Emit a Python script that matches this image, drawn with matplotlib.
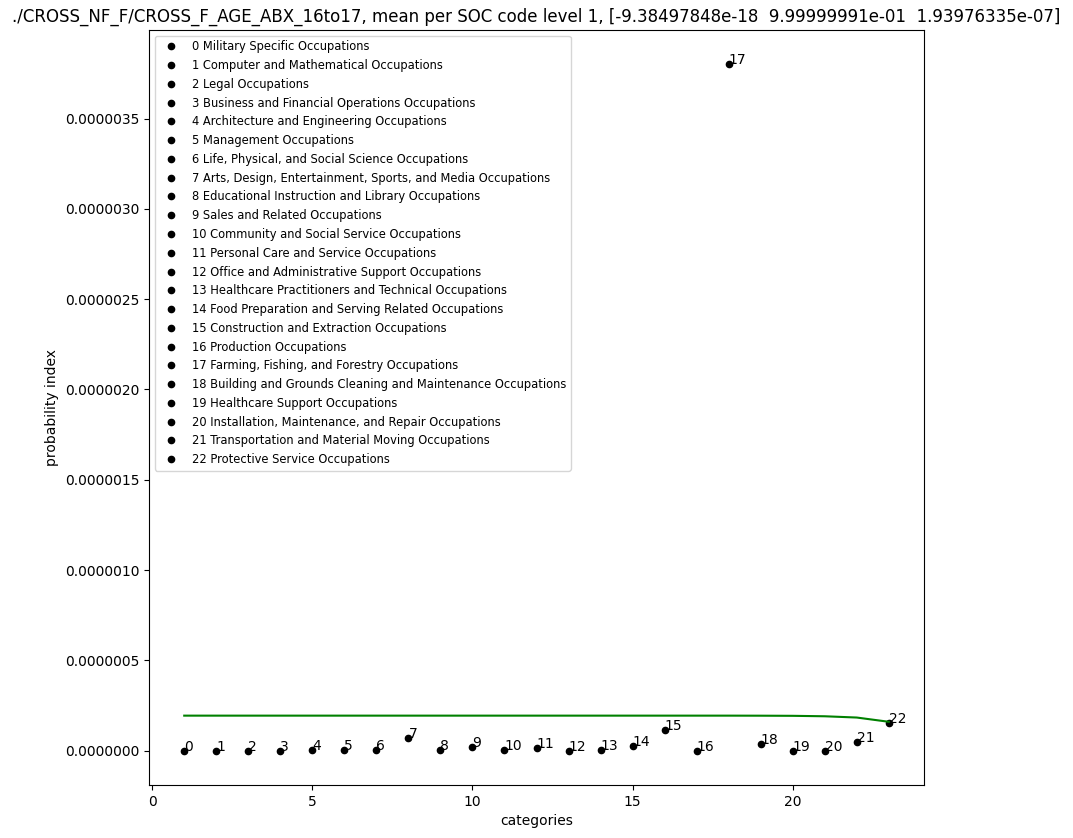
import matplotlib
matplotlib.use("Agg")
import matplotlib.pyplot as plt
from matplotlib.ticker import FormatStrFormatter

names = [
    "Military Specific Occupations",
    "Computer and Mathematical Occupations",
    "Legal Occupations",
    "Business and Financial Operations Occupations",
    "Architecture and Engineering Occupations",
    "Management Occupations",
    "Life, Physical, and Social Science Occupations",
    "Arts, Design, Entertainment, Sports, and Media Occupations",
    "Educational Instruction and Library Occupations",
    "Sales and Related Occupations",
    "Community and Social Service Occupations",
    "Personal Care and Service Occupations",
    "Office and Administrative Support Occupations",
    "Healthcare Practitioners and Technical Occupations",
    "Food Preparation and Serving Related Occupations",
    "Construction and Extraction Occupations",
    "Production Occupations",
    "Farming, Fishing, and Forestry Occupations",
    "Building and Grounds Cleaning and Maintenance Occupations",
    "Healthcare Support Occupations",
    "Installation, Maintenance, and Repair Occupations",
    "Transportation and Material Moving Occupations",
    "Protective Service Occupations",
]
categories = list(range(1, 24))
values = [0.0, 0.001e-6, 0.001e-6, 0.001e-6, 0.002e-6, 0.005e-6, 0.002e-6, 0.072e-6,
          0.002e-6, 0.022e-6, 0.002e-6, 0.017e-6, 0.001e-6, 0.002e-6, 0.028e-6,
          0.116e-6, 0.001e-6, 3.80e-6, 0.039e-6, 0.001e-6, 0.001e-6, 0.050e-6, 0.155e-6]
fit_x = list(range(1, 24))
fit_y = [0.1940e-6] * 18 + [0.1937e-6, 0.1930e-6, 0.1905e-6, 0.1835e-6, 0.1600e-6]

fig = plt.figure(figsize=(10.73, 8.38), dpi=100)
ax = fig.add_axes([149/1073, 1 - 785/838, (924-149)/1073, (785-30)/838])
for i, (x, y) in enumerate(zip(categories, values)):
    ax.plot(x, y, 'o', color='black', markersize=4.5, label=f"{i} {names[i]}")
    ax.text(x, y, str(i), fontsize=10)
ax.plot(fit_x, fit_y, color='green')
ax.yaxis.set_major_formatter(FormatStrFormatter('%.7f'))
ax.set_xlabel("categories")
ax.set_ylabel("probability index")
ax.set_title("./CROSS_NF_F/CROSS_F_AGE_ABX_16to17, mean per SOC code level 1, [-9.38497848e-18  9.99999991e-01  1.93976335e-07]")
ax.legend(loc='upper left', fontsize=8.3)
fig.savefig("out.png", dpi=100)
